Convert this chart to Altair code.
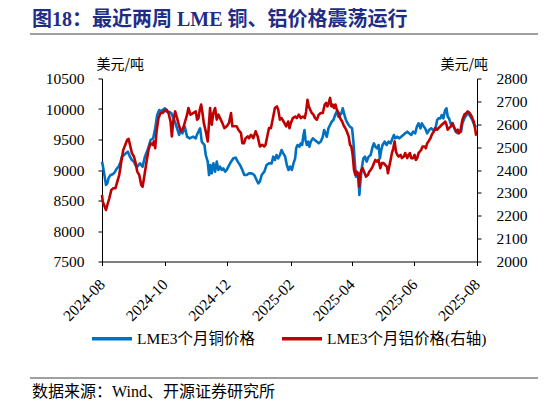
import pandas as pd
import altair as alt

# trading days counted from 2024-08-01, prices
cu_day = [0.0, 0.7, 2.6, 3.9, 5.2, 6.5, 8.4, 10.4, 12.3, 14.2, 16.2, 18.1, 19.4, 21.4, 23.3, 25.2,
          27.2, 29.1, 31.1, 32.4, 34.3, 36.9, 39.5, 41.8, 45.0, 47.3, 49.8, 51.8, 53.7, 55.7, 57.3,
          58.9, 61.2, 62.8, 65.4, 67.6, 70.9, 73.1, 75.1, 76.4, 78.3, 80.6, 82.8, 85.4, 88.7, 91.3,
          92.3, 93.9, 95.5, 97.1, 99.7, 101.0, 102.9, 104.2, 105.5, 106.8, 108.4, 110.1, 111.7,
          113.3, 114.9, 116.5, 118.1, 119.8, 121.4, 123.0, 125.6, 127.9, 130.1, 132.1, 134.3,
          135.9, 138.5, 140.8, 143.1, 145.7, 148.2, 150.5, 152.1, 153.7, 155.4, 158.0, 160.2,
          162.5, 165.1, 166.7, 168.3, 169.9, 171.5, 173.2, 174.8, 176.4,
          178.3, 179.9, 181.6, 183.2, 184.8, 186.4, 188.0, 189.0, 190.3, 192.2, 193.5, 194.8,
          196.1, 197.1, 198.1, 199.4, 200.7, 201.9, 203.2, 205.2, 207.1, 209.1, 211.0, 212.9,
          214.9, 216.2, 217.5, 218.8, 220.4, 222.0, 223.6, 225.2, 226.9, 228.5, 230.1, 231.7,
          233.0, 234.3, 235.6, 236.9, 238.2, 240.1, 241.4, 243.4, 244.7, 246.0, 247.2, 248.5,
          249.8, 250.5, 251.8, 253.1, 254.4, 256.0, 257.6, 259.5, 261.5, 263.4, 264.7,
          266.0, 267.6, 269.2, 270.5, 271.8, 273.1, 275.1, 277.0, 278.9, 280.9, 282.8, 284.1,
          285.4, 287.4, 289.3, 291.2, 293.2, 295.1, 297.1, 299.0, 301.0, 302.9, 304.8, 306.5,
          308.1, 310.0, 311.3, 313.3, 314.5, 316.5, 318.4, 320.4, 322.3, 324.3, 326.2, 327.5,
          329.4, 330.7, 332.3, 334.0, 335.3, 336.5, 337.8, 339.8, 341.1, 343.0, 344.3, 346.3,
          348.2, 349.5, 350.8, 352.7, 354.7, 356.6, 358.6, 360.5, 362.4, 364.2]
cu_val = [9137, 9082, 8891, 8754, 8782, 8874, 8918, 8929, 8962, 9017, 9055, 9137, 9219, 9246, 9273, 9301,
          9219, 9164, 9137, 9082, 9055, 9109, 9055, 9219, 9355, 9492, 9519, 9683, 9902, 9984, 9956,
          9984, 10011, 9956, 9956, 9929, 9792, 9683, 9574, 9656, 9601, 9710, 9546, 9519, 9546, 9519,
          9574, 9628, 9683, 9465, 9410, 9246, 9137, 8918, 9082, 8945, 9109, 8973, 9137,
          9000, 9055, 9000, 9027, 8973, 9000, 9055, 9137, 9191, 9202, 9137, 9082,
          9027, 8918, 8918, 8945, 8945, 8918, 8836, 8782, 8809, 8918, 8973, 9082,
          9109, 9109, 9219, 9164, 9246, 9191, 9246, 9328, 9273,
          9219, 9082, 9000, 9055, 9000, 9109, 9191, 9355, 9410, 9383, 9437, 9410,
          9574, 9656, 9492, 9410, 9465, 9383, 9465, 9519, 9492, 9465, 9437, 9465,
          9546, 9656, 9601, 9546, 9683, 9738, 9792, 9820, 9902, 9956, 9874, 9902,
          9929, 10011, 9929, 9847, 9792, 9738, 9710, 9683, 9465, 9137, 8891, 8918,
          8836, 8590, 8863, 9055, 9191, 9219, 9137, 9219, 9246, 9383, 9437,
          9383, 9355, 9410, 9191, 9328, 9410, 9465, 9410, 9465, 9437, 9519, 9574,
          9519, 9546, 9519, 9546, 9574, 9601, 9628, 9601, 9574, 9628, 9601, 9710,
          9765, 9683, 9765, 9710, 9683, 9601, 9656, 9683, 9656, 9656, 9820, 9847,
          9847, 9902, 9847, 9984, 10011, 9874, 9847, 9738, 9765, 9683, 9628, 9601,
          9628, 9628, 9765, 9847, 9902, 9929, 9874, 9820, 9738, 9700]

al_day = [0.0, 0.7, 2.6, 3.9, 5.2, 7.1, 9.1, 11.0, 13.0, 14.9, 16.8, 18.8, 20.7, 22.7, 24.6, 25.9,
          27.2, 29.1, 31.1, 32.4, 34.3, 36.2, 38.2, 39.5, 41.4, 43.4, 45.3, 47.3, 49.2, 50.5, 51.8,
          53.1, 55.0, 57.0, 58.9, 60.8, 62.8, 64.7, 66.7, 68.0, 69.3, 71.2, 73.1, 75.1, 77.0, 79.0,
          80.9, 82.8, 84.1, 86.1, 88.7, 91.3,
          92.6, 93.9, 95.2, 96.5, 97.8, 99.1, 101.0, 102.9, 105.2, 106.8, 108.4, 110.1, 111.7,
          113.3, 114.9, 117.2, 119.1, 121.4, 123.6, 125.6, 126.9, 128.8, 131.1, 132.7, 135.3,
          136.6, 138.2, 139.8, 141.8, 143.1, 145.0, 147.3, 149.5, 151.5, 153.7, 156.0, 157.9,
          159.2, 160.5, 162.5, 164.4, 166.4, 168.3, 170.2, 171.5, 173.2, 174.8, 176.7,
          179.3, 181.2, 182.5, 183.8, 185.8, 188.0, 189.6, 191.6, 193.5, 195.5, 197.4, 198.7,
          200.0, 201.3, 202.6, 204.2, 205.8, 207.4, 209.1, 211.0, 212.9, 214.9, 216.8, 218.1,
          219.4, 220.7, 222.0, 223.3, 224.6, 225.9, 227.2, 228.5, 230.4, 231.7, 233.7, 235.6,
          236.9, 238.2, 240.1, 241.4, 242.7, 244.0, 245.3, 246.6, 247.9, 249.2, 250.2, 251.1,
          252.4, 253.7, 255.0, 257.0, 258.9, 260.2, 261.5, 263.4, 265.4,
          266.0, 267.6, 269.2, 270.9, 272.5, 274.1, 275.7, 277.3, 278.3, 279.6, 280.9, 282.2,
          283.5, 284.8, 286.1, 287.4, 288.7, 290.6, 291.9, 293.8, 295.1, 297.1, 298.4, 299.7,
          301.0, 302.9, 304.2, 305.5, 306.8, 308.1, 309.4, 310.7, 312.0, 313.9, 315.2, 316.5,
          317.8, 319.7, 321.0, 323.0, 324.3, 326.2, 327.5, 329.4, 330.7, 332.7, 334.0, 335.3,
          336.5, 337.8, 339.8, 341.1, 343.0, 345.0, 346.3, 347.6, 348.8, 350.8, 352.7, 354.7,
          356.0, 357.9, 359.8, 361.8, 363.1, 364.2]
al_val = [2291, 2262, 2240, 2225, 2247, 2276, 2313, 2320, 2320, 2349, 2379, 2437, 2488, 2510, 2532, 2536,
          2510, 2474, 2459, 2437, 2393, 2379, 2335, 2327, 2379, 2437, 2488, 2517, 2510, 2525, 2495,
          2569, 2627, 2649, 2649, 2659, 2664, 2649, 2612, 2547, 2612, 2656, 2627, 2591, 2569, 2583,
          2612, 2642, 2671, 2642, 2649, 2656,
          2620, 2627, 2664, 2686, 2649, 2605, 2569, 2525, 2671, 2598, 2649, 2671, 2620,
          2642, 2627, 2605, 2583, 2591, 2605, 2649, 2591, 2591, 2591, 2576, 2561,
          2517, 2517, 2539, 2547, 2539, 2554, 2539, 2569, 2547, 2503, 2510, 2503,
          2510, 2539, 2583, 2583, 2627, 2671, 2678, 2664, 2620, 2627, 2612,
          2591, 2612, 2583, 2605, 2627, 2634, 2627, 2642, 2627, 2634, 2627, 2656,
          2707, 2678, 2664, 2649, 2642, 2627, 2620, 2642, 2649, 2649, 2686, 2693,
          2678, 2693, 2715, 2678, 2686, 2671, 2686, 2664, 2649, 2627, 2612, 2591,
          2583, 2569, 2547, 2510, 2503, 2466, 2400, 2379, 2393, 2386, 2327, 2379,
          2400, 2408, 2393, 2371, 2379, 2393, 2400, 2415, 2437,
          2444, 2437, 2444, 2408, 2430, 2430, 2422, 2415, 2386, 2415, 2444, 2474,
          2495, 2525, 2481, 2466, 2459, 2466, 2452, 2459, 2474, 2452, 2466, 2474,
          2452, 2452, 2466, 2444, 2452, 2474, 2481, 2488, 2503, 2503, 2495, 2517,
          2525, 2539, 2554, 2569, 2583, 2576, 2583, 2591, 2598, 2605, 2612, 2598,
          2576, 2583, 2591, 2605, 2583, 2569, 2576, 2561, 2569, 2620, 2642, 2649,
          2656, 2649, 2634, 2612, 2583, 2550]

cu_ticks = [7500, 8000, 8500, 9000, 9500, 10000, 10500]
al_ticks = [2000, 2100, 2200, 2300, 2400, 2500, 2600, 2700, 2800]
x_ticks = [(2024, 8), (2024, 10), (2024, 12), (2025, 2), (2025, 4), (2025, 6), (2025, 8)]

series_names = ["LME3个月铜价格", "LME3个月铝价格(右轴)"]
series_colors = ["#0070C0", "#C00000"]

title_text = "图18：最近两周 LME 铜、铝价格震荡运行"
source_text = "数据来源：Wind、开源证券研究所"
unit_text = "美元/吨"

SERIF = "Liberation Serif, Noto Sans CJK SC"
CJK = "Noto Sans CJK SC"
START = pd.Timestamp("2024-08-01")


def to_frame(days, values, name):
    return pd.DataFrame({
        "date": START + pd.to_timedelta(days, unit="D"),
        "price": values,
        "series": name,
    })


cu_df = to_frame(cu_day, cu_val, series_names[0])
al_df = to_frame(al_day, al_val, series_names[1])

tick_dates = [alt.DateTime(year=y, month=m, date=1) for y, m in x_ticks]

x_enc = alt.X(
    "date:T",
    title=None,
    scale=alt.Scale(domain=[tick_dates[0], tick_dates[-1]]),
    axis=alt.Axis(values=tick_dates, format="%Y-%m", labelAngle=315,
                  labelAlign="right", labelBaseline="middle", labelPadding=16),
)

color_enc = alt.Color(
    "series:N",
    scale=alt.Scale(domain=series_names, range=series_colors),
    legend=alt.Legend(orient="none", legendX=-12, legendY=238, direction="horizontal",
                      title=None, symbolType="stroke", symbolSize=1600, symbolStrokeWidth=3.5,
                      labelFont=SERIF, labelFontSize=15.5, labelColor="black",
                      labelOffset=3, columnPadding=20, labelLimit=300),
)

cu_line = alt.Chart(cu_df).mark_line(strokeWidth=2.6, strokeJoin="round").encode(
    x=x_enc,
    y=alt.Y("price:Q", scale=alt.Scale(domain=[cu_ticks[0], cu_ticks[-1]], nice=False),
            axis=alt.Axis(orient="left", values=cu_ticks, format="d", title=unit_text,
                          titleAngle=0, titleAlign="left", titleBaseline="middle",
                          titleX=-6, titleY=-14, labelPadding=14)),
    color=color_enc,
)

al_line = alt.Chart(al_df).mark_line(strokeWidth=2.6, strokeJoin="round").encode(
    x=x_enc,
    y=alt.Y("price:Q", scale=alt.Scale(domain=[al_ticks[0], al_ticks[-1]], nice=False),
            axis=alt.Axis(orient="right", values=al_ticks, format="d", title=unit_text,
                          titleAngle=0, titleAlign="left", titleBaseline="middle",
                          titleX=-37, titleY=-14, labelPadding=15)),
    color=color_enc,
)

one_row = alt.Data(values=[{}])

title_mark = alt.Chart(one_row).mark_text(
    align="left", baseline="middle", font=SERIF, fontSize=20, fontWeight="bold",
    color="#1f2d86", text=title_text,
).encode(x=alt.value(-70), y=alt.value(-59))

source_mark = alt.Chart(one_row).mark_text(
    align="left", baseline="middle", font=SERIF, fontSize=16, color="black", text=source_text,
).encode(x=alt.value(-70), y=alt.value(313))

top_rule = alt.Chart(one_row).mark_rule(color="#404040", strokeWidth=1).encode(
    x=alt.value(-72), x2=alt.value(436), y=alt.value(-44.5))
bottom_rule = alt.Chart(one_row).mark_rule(color="#404040", strokeWidth=1).encode(
    x=alt.value(-72), x2=alt.value(436), y=alt.value(299.5))

chart = alt.layer(
    cu_line, al_line, title_mark, source_mark, top_rule, bottom_rule
).resolve_scale(
    y="independent"
).properties(
    width=375,
    height=183,
    autosize=alt.AutoSizeParams(type="none"),
    padding={"left": 94, "top": 70.5, "right": 61, "bottom": 138.5},
).configure_view(
    stroke=None
).configure_axis(
    grid=False,
    labelFont=SERIF,
    labelFontSize=15.5,
    labelColor="black",
    domainColor="black",
    domainWidth=1,
    tickColor="black",
    tickSize=4,
    titleFont=CJK,
    titleFontSize=14,
    titleFontWeight="normal",
    titleColor="black",
)

chart.save("out.html", embed_options={"renderer": "svg", "actions": False})
